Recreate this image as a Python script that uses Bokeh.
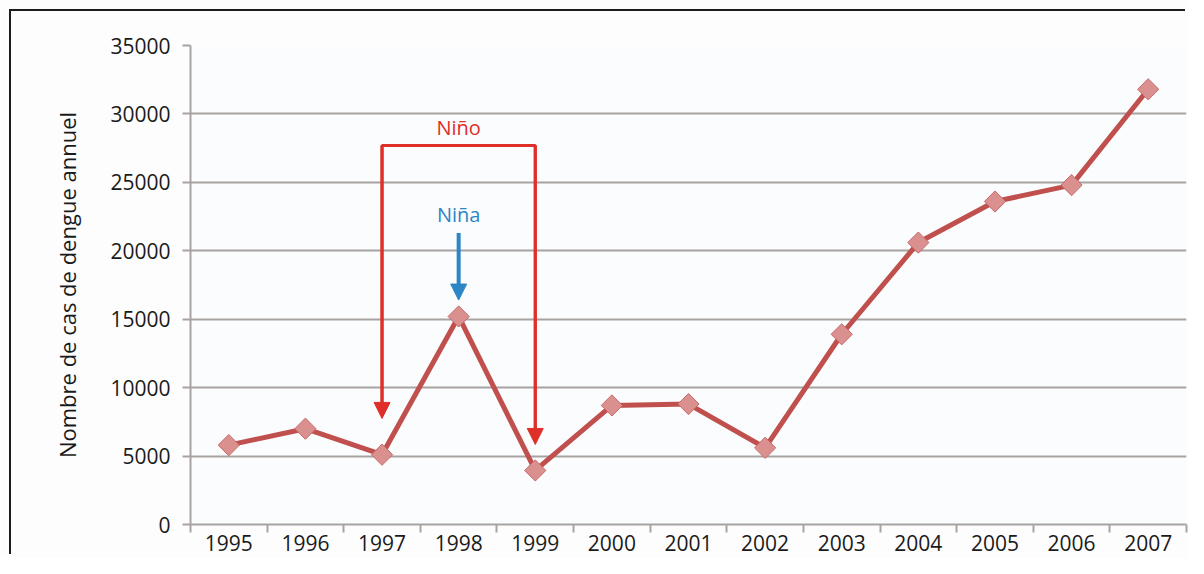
import numpy as np
from bokeh.plotting import figure
from bokeh.models import Range1d, FixedTicker, Arrow, NormalHead, Label, InlineStyleSheet
from bokeh.embed import file_html
from bokeh.resources import INLINE

years = ["1995", "1996", "1997", "1998", "1999", "2000", "2001",
         "2002", "2003", "2004", "2005", "2006", "2007"]
cases = [5800, 7000, 5100, 15200, 3950, 8700, 8800,
         5600, 13900, 20600, 23600, 24800, 31800]
y_ticks = [0, 5000, 10000, 15000, 20000, 25000, 30000, 35000]

nino_years = ["1997", "1999"]
nino_top = 27700
nino_ends = [7750, 5850]
nino_label_y = 28050
nina_year = "1998"
nina_start, nina_end = 21300, 16400
nina_label_y = 21700

FONT = "Open Sans"
RED = "#df2f29"
BLUE = "#2b86c5"
LINE = "#c0504d"
GRID = "#a8a3a1"
FRAME = "#1c1c1c"

xs = [i + 0.5 for i in range(len(years))]

frame_css = InlineStyleSheet(css=f"""
:host::before {{
  content: ""; position: absolute; left: 9px; top: 9px; width: 1176px; height: 2px;
  background: {FRAME}; z-index: 10; pointer-events: none;
}}
:host::after {{
  content: ""; position: absolute; left: 9px; top: 9px; width: 2px; height: 545px;
  background: {FRAME}; z-index: 10; pointer-events: none;
}}
""")

p = figure(width=1188, height=558, output_backend="svg", toolbar_location=None,
           x_range=Range1d(0, len(years)), y_range=Range1d(0, 35000),
           min_border_left=190, min_border_top=45, min_border_right=2,
           min_border_bottom=34, stylesheets=[frame_css])
p.background_fill_color = "#fbfcfe"
p.border_fill_color = "#fdfdfe"
p.outline_line_color = None

# axes
p.xaxis.ticker = FixedTicker(ticks=xs, minor_ticks=list(range(len(years) + 1)))
p.xaxis.major_label_overrides = {x: y for x, y in zip(xs, years)}
p.xaxis.major_tick_line_color = None
p.xaxis.minor_tick_line_color = GRID
p.xaxis.minor_tick_line_width = 2
p.xaxis.minor_tick_out = 8
p.xaxis.minor_tick_in = 0
p.xaxis.axis_line_color = GRID
p.xaxis.axis_line_width = 2
p.xaxis.major_label_standoff = 2
p.xaxis.major_label_text_font = FONT
p.xaxis.major_label_text_font_size = "21px"
p.xaxis.major_label_text_color = "#1a1a1a"

p.yaxis.ticker = FixedTicker(ticks=y_ticks)
p.yaxis.minor_tick_line_color = None
p.yaxis.major_tick_line_color = GRID
p.yaxis.major_tick_line_width = 2
p.yaxis.major_tick_out = 8
p.yaxis.major_tick_in = 0
p.yaxis.axis_line_color = GRID
p.yaxis.axis_line_width = 2
p.yaxis.major_label_standoff = 12
p.yaxis.major_label_text_font = FONT
p.yaxis.major_label_text_font_size = "21px"
p.yaxis.major_label_text_color = "#1a1a1a"
p.yaxis.axis_label = "Nombre de cas de dengue annuel"
p.yaxis.axis_label_text_font = FONT
p.yaxis.axis_label_text_font_size = "22px"
p.yaxis.axis_label_text_font_style = "normal"
p.yaxis.axis_label_text_color = "#1a1a1a"
p.yaxis.axis_label_standoff = 25

p.xgrid.grid_line_color = None
p.ygrid.ticker = FixedTicker(ticks=y_ticks)
p.ygrid.grid_line_color = GRID
p.ygrid.grid_line_width = 2

# series
p.line(xs, cases, line_color=LINE, line_width=5)
p.scatter(xs, cases, marker="square", angle=np.pi / 4, size=15,
          fill_color="#d9908e", line_color="#c96a68", line_width=1)

# Niño bracket
nx = [years.index(y) + 0.5 for y in nino_years]
p.line([nx[0], nx[0], nx[1], nx[1]], [nino_ends[0] + 600, nino_top, nino_top, nino_ends[1] + 600],
       line_color=RED, line_width=3)
for x, ye in zip(nx, nino_ends):
    p.add_layout(Arrow(x_start=x, y_start=nino_top, x_end=x, y_end=ye,
                       line_color=RED, line_width=3,
                       end=NormalHead(size=16, fill_color=RED, line_color=RED)))
p.add_layout(Label(x=(nx[0] + nx[1]) / 2, y=nino_label_y, text="Niño",
                   text_align="center", text_baseline="bottom", text_color=RED,
                   text_font=FONT, text_font_size="20px"))

# Niña arrow
ix = years.index(nina_year) + 0.5
p.add_layout(Arrow(x_start=ix, y_start=nina_start, x_end=ix, y_end=nina_end,
                   line_color=BLUE, line_width=4,
                   end=NormalHead(size=16, fill_color=BLUE, line_color=BLUE)))
p.add_layout(Label(x=ix, y=nina_label_y, text="Niña",
                   text_align="center", text_baseline="bottom", text_color=BLUE,
                   text_font=FONT, text_font_size="20px"))

open("out.html", "w").write(file_html(p, INLINE))
